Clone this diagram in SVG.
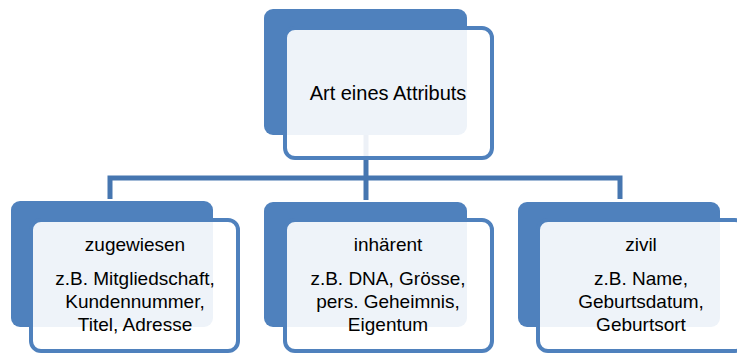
<svg xmlns="http://www.w3.org/2000/svg" width="737" height="354" viewBox="0 0 737 354">
  <style>
    .back { fill: #4F81BD; }
    .front { fill: #FFFFFF; fill-opacity: 0.9; stroke: #4F81BD; stroke-width: 4; }
    .conn { fill: none; stroke: #4676B0; stroke-width: 5; stroke-linejoin: miter; }
    text { font-family: "Liberation Sans", Arial, sans-serif; font-size: 19px; fill: #000000; text-anchor: middle; }
    text.root { font-size: 20px; }
  </style>
  <rect width="737" height="354" fill="#FFFFFF"/>

  <!-- tree connectors -->
  <g id="connectors">
    <path class="conn" d="M366,135 V178"/>
    <path class="conn" d="M110,199 V178 H620 V199"/>
    <path class="conn" d="M366,178 V200"/>
  </g>

  <!-- root node -->
  <g id="node-root">
    <rect class="back" x="264" y="9" width="203" height="126" rx="9"/>
    <rect class="front" x="285" y="28" width="207" height="130" rx="10"/>
    <text class="root" x="388" y="100">Art eines Attributs</text>
  </g>

  <!-- child: zugewiesen -->
  <g id="node-zugewiesen">
    <rect class="back" x="11" y="201" width="202" height="126" rx="9"/>
    <rect class="front" x="31" y="220" width="207" height="131" rx="10"/>
    <text x="135" y="251">zugewiesen</text>
    <text x="135" y="285">z.B. Mitgliedschaft,</text>
    <text x="135" y="308">Kundennummer,</text>
    <text x="135" y="331">Titel, Adresse</text>
  </g>

  <!-- child: inhärent -->
  <g id="node-inhaerent">
    <rect class="back" x="264" y="202" width="203" height="125" rx="9"/>
    <rect class="front" x="285" y="220" width="207" height="131" rx="10"/>
    <text x="388" y="251">inhärent</text>
    <text x="388" y="285">z.B. DNA, Grösse,</text>
    <text x="388" y="308">pers. Geheimnis,</text>
    <text x="388" y="331">Eigentum</text>
  </g>

  <!-- child: zivil -->
  <g id="node-zivil">
    <rect class="back" x="518" y="202" width="202" height="125" rx="9"/>
    <rect class="front" x="538" y="220" width="207" height="131" rx="10"/>
    <text x="641" y="251">zivil</text>
    <text x="641" y="285">z.B. Name,</text>
    <text x="641" y="308">Geburtsdatum,</text>
    <text x="641" y="331">Geburtsort</text>
  </g>
</svg>
